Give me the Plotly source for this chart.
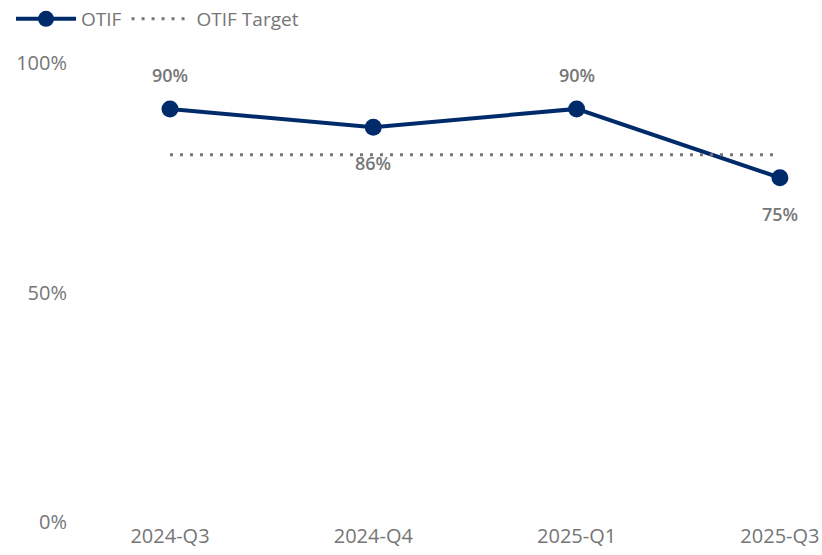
import plotly.graph_objects as go

quarters = ["2024-Q3", "2024-Q4", "2025-Q1", "2025-Q3"]
otif = [90, 86, 90, 75]
otif_target = [80, 80, 80, 80]
label_pos = ["above", "below", "above", "below"]

NAVY = "#002B6B"
GRAY = "#767676"
FONT = "Open Sans, Noto Sans, sans-serif"

fig = go.Figure()
fig.add_trace(go.Scatter(
    x=quarters, y=otif, name="OTIF", mode="lines+markers",
    line=dict(color=NAVY, width=4),
    marker=dict(color=NAVY, size=17),
))
fig.add_trace(go.Scatter(
    x=quarters, y=otif_target, name="OTIF Target", mode="lines",
    line=dict(color=GRAY, width=3, dash="3px,7px"),
))

for q, v, p in zip(quarters, otif, label_pos):
    fig.add_annotation(
        x=q, y=v, text=f"{v}%", showarrow=False,
        yshift=34 if p == "above" else -36,
        font=dict(family=FONT, size=18, color="#777777", weight=600),
    )

fig.update_layout(
    width=822, height=555,
    paper_bgcolor="white", plot_bgcolor="white",
    margin=dict(l=70, r=0, t=63, b=33, autoexpand=False),
    font=dict(family=FONT, color=GRAY),
    showlegend=True,
    legend=dict(orientation="h", xref="container", yref="container",
                x=0.0134, xanchor="left", y=1 - 19 / 555, yanchor="middle",
                font=dict(size=19, color=GRAY, family=FONT),
                itemwidth=60, tracegroupgap=0, bgcolor="rgba(0,0,0,0)"),
    xaxis=dict(type="category", range=[-0.4918, 3.207], showgrid=False,
               zeroline=False, showline=False, ticks="",
               tickfont=dict(size=20, color=GRAY, family=FONT)),
    yaxis=dict(range=[0, 100], tickvals=[0, 50, 100],
               ticktext=["0%", "50%", "100%"], showgrid=False,
               zeroline=False, showline=False, ticks="", ticklabelstandoff=2,
               tickfont=dict(size=20, color=GRAY, family=FONT)),
)

fig.write_html("out.html",
               config={"displayModeBar": False},
               post_script="document.body.style.margin='0';document.body.style.overflow='hidden';")
